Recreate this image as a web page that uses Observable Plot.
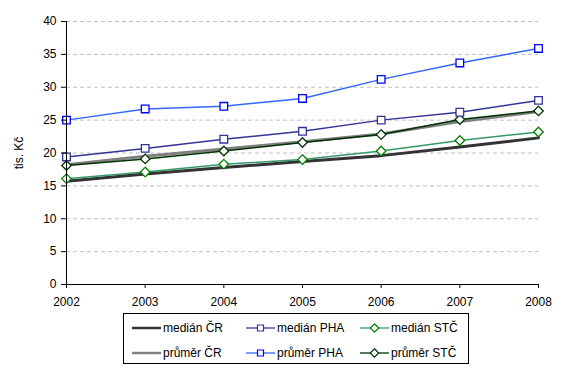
<!DOCTYPE html>
<html><head><meta charset="utf-8">
<script src="https://cdn.jsdelivr.net/npm/d3@7"></script>
<script src="https://cdn.jsdelivr.net/npm/@observablehq/plot@0.6"></script>
<style>
body{margin:0;background:#fff;font-family:"Liberation Sans",Arial,sans-serif;}
#wrap{position:relative;width:566px;height:376px;}
#legend{position:absolute;left:123px;top:313px;width:346px;height:51px;border:1px solid #000;box-sizing:border-box;font-size:12px;}
.item{position:absolute;display:flex;align-items:center;height:14px;}
.item svg{margin-right:2px;}
</style>
</head><body><div id="wrap"><div id="chart"></div><div id="legend"></div></div>
<script>
const years = [2002, 2003, 2004, 2005, 2006, 2007, 2008];
const medianCR  = [15.7, 16.8, 17.8, 18.7, 19.6, 20.9, 22.3];
const prumerCR  = [18.2, 19.5, 20.6, 21.7, 22.9, 24.8, 26.3];
const medianPHA = [19.4, 20.7, 22.1, 23.3, 25.0, 26.2, 28.0];
const prumerPHA = [25.0, 26.7, 27.1, 28.3, 31.2, 33.7, 35.9];
const medianSTC = [16.1, 17.1, 18.3, 19.0, 20.3, 21.9, 23.2];
const prumerSTC = [18.1, 19.1, 20.3, 21.6, 22.8, 25.1, 26.4];
const yTicks = [0, 5, 10, 15, 20, 25, 30, 35, 40];

const series = [
  {name: "medián ČR",   values: medianCR,  stroke: "#333333", width: 3,   symbol: null},
  {name: "medián PHA",  values: medianPHA, stroke: "#333399", width: 1.5, symbol: "square",   mark: "#333399"},
  {name: "medián STČ",  values: medianSTC, stroke: "#339966", width: 1.5, symbol: "diamond2", mark: "#008000"},
  {name: "průměr ČR",   values: prumerCR,  stroke: "#808080", width: 3,   symbol: null},
  {name: "průměr PHA",  values: prumerPHA, stroke: "#3366FF", width: 1.5, symbol: "square",   mark: "#0000FF"},
  {name: "průměr STČ",  values: prumerSTC, stroke: "#003300", width: 1.5, symbol: "diamond2", mark: "#003300"}
];
const drawOrder = [0, 3, 2, 5, 1, 4];

const marks = [
  Plot.gridY(yTicks.filter(d => d > 0), {stroke: "#c0c0c0", strokeOpacity: 1, strokeDasharray: "4,3"}),
];
for (const i of drawOrder) {
  const s = series[i];
  const data = years.map((y, k) => ({year: y, value: s.values[k]}));
  marks.push(Plot.line(data, {x: "year", y: "value", stroke: s.stroke, strokeWidth: s.width}));
}
for (const i of drawOrder) {
  const s = series[i];
  if (!s.symbol) continue;
  const data = years.map((y, k) => ({year: y, value: s.values[k]}));
  marks.push(Plot.dot(data, {x: "year", y: "value", symbol: s.symbol, r: 4.3, stroke: s.mark, fill: "white", strokeWidth: 1.3}));
}
marks.push(
  Plot.ruleX([2002], {stroke: "#000"}),
  Plot.ruleY([0], {stroke: "#000"}),
  Plot.axisY({ticks: yTicks, tickSize: 5, tickPadding: 5, label: "tis. Kč", labelAnchor: "center", labelArrow: "none", labelOffset: 52, fontSize: 12}),
  Plot.axisX({ticks: years, tickFormat: d => String(d), tickSize: 4, tickPadding: 9, label: null, fontSize: 12})
);

const chart = Plot.plot({
  width: 566, height: 312,
  marginLeft: 66, marginRight: 28, marginTop: 21, marginBottom: 28,
  x: {domain: [2002, 2008]},
  y: {domain: [0, 40]},
  style: {fontFamily: "'Liberation Sans', Arial, sans-serif", fontSize: "12px", color: "#000", background: "white"},
  marks
});
document.getElementById("chart").appendChild(chart);

// legend
const legend = document.getElementById("legend");
const cols = [8, 122, 236];
const rows = [7, 32];
series.forEach((s, i) => {
  const col = i % 3, row = Math.floor(i / 3);
  const div = document.createElement("div");
  div.className = "item";
  div.style.left = cols[col] + "px";
  div.style.top = rows[row] + "px";
  const ns = "http://www.w3.org/2000/svg";
  const svg = document.createElementNS(ns, "svg");
  svg.setAttribute("width", 29); svg.setAttribute("height", 14);
  const line = document.createElementNS(ns, "line");
  line.setAttribute("x1", 0); line.setAttribute("x2", 29);
  line.setAttribute("y1", 7); line.setAttribute("y2", 7);
  line.setAttribute("stroke", s.stroke); line.setAttribute("stroke-width", s.width === 3 ? 2.5 : 1.3);
  svg.appendChild(line);
  if (s.symbol) {
    const p = document.createElementNS(ns, "path");
    const sym = s.symbol === "square" ? d3.symbolSquare : d3.symbolDiamond2;
    p.setAttribute("d", d3.symbol(sym, s.symbol === "square" ? 36 : 45)());
    p.setAttribute("transform", "translate(14.5,7)");
    p.setAttribute("fill", "white"); p.setAttribute("stroke", s.mark); p.setAttribute("stroke-width", 1.2);
    svg.appendChild(p);
  }
  div.appendChild(svg);
  const t = document.createElement("span");
  t.textContent = s.name;
  div.appendChild(t);
  legend.appendChild(div);
});
</script>
</body></html>
